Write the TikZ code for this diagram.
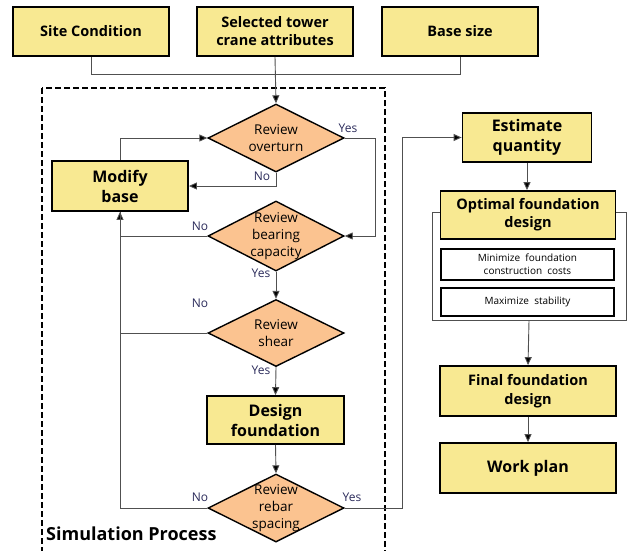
\documentclass[tikz,border=0pt]{standalone}
\usepackage{fontspec}
\setmainfont{Open Sans}
\usetikzlibrary{arrows.meta,shapes.geometric,calc}
\definecolor{boxyel}{HTML}{F8E992}
\definecolor{diaor}{HTML}{FBC390}
\definecolor{yn}{HTML}{2A2A5A}
\definecolor{conn}{HTML}{505050}
\tikzset{
  ybox/.style={draw=black, line width=1.8pt, fill=boxyel, align=center, inner sep=2pt, font=\bfseries\fontsize{16}{20}\selectfont},
  topbox/.style={ybox, minimum width=156pt, minimum height=49pt, font=\bfseries\fontsize{14.5}{18}\selectfont},
  dia/.style={draw=black, line width=1.4pt, fill=diaor, diamond, inner sep=0pt},
  dtext/.style={align=center, font=\fontsize{13.5}{17}\selectfont, inner sep=0pt},
  wbox/.style={draw=black, line width=1.6pt, fill=white, align=center, minimum width=173pt, font=\fontsize{10}{13}\selectfont},
  lab/.style={text=yn, font=\fontsize{12}{14}\selectfont, inner sep=0pt},
  arr/.style={draw=conn, line width=0.9pt, -{Triangle[length=8pt,width=7pt,fill=black]}},
  ln/.style={draw=conn, line width=0.9pt},
}
\begin{document}
\begin{tikzpicture}[x=1pt,y=-1pt]
\useasboundingbox (0,0) rectangle (628,550);
\clip (0,0) rectangle (628,550);
% top inputs
\node[topbox] (site) at (91,31.5) {Site Condition};
\node[topbox] (crane) at (275,31.5) {Selected tower\\crane attributes};
\node[topbox] (base) at (460,31.5) {Base size};
% simulation frame
\draw[line width=1.6pt, dash pattern=on 6pt off 3pt] (42,88) rectangle (385,560);
\node[anchor=west, inner sep=0pt, font=\bfseries\fontsize{18}{21}\selectfont] (simlab) at (46,534) {Simulation Process};
% process nodes
\node[dia, minimum width=136pt, minimum height=68pt, label={[dtext]center:Review\\overturn}] (ov) at (276,138) {};
\node[ybox, minimum width=136pt, minimum height=50pt] (mod) at (120,186) {Modify\\base};
\node[dia, minimum width=136pt, minimum height=70pt, label={[dtext]center:Review\\bearing\\capacity}] (br) at (276,236) {};
\node[dia, minimum width=136pt, minimum height=67pt, label={[dtext]center:Review\\shear}] (sh) at (276,333) {};
\node[ybox, minimum width=137pt, minimum height=48pt] (df) at (275.5,420) {Design\\foundation};
\node[dia, minimum width=136pt, minimum height=68pt, label={[dtext]center:Review\\rebar\\spacing}] (rb) at (276,508) {};
% right column
\node[ybox, minimum width=129pt, minimum height=49pt] (est) at (527,137.5) {Estimate\\quantity};
\node[draw=conn, line width=0.9pt, minimum width=194pt, minimum height=108pt, inner sep=0pt] (grp) at (529,266) {};
\node[ybox, minimum width=175pt, minimum height=48pt, font=\bfseries\fontsize{14.5}{18}\selectfont] (opt) at (528,215) {Optimal foundation\\design};
\node[wbox, minimum height=31pt] (minc) at (527.5,264.5) {Minimize\ \ foundation\\construction\ \ costs};
\node[wbox, minimum height=28pt] (maxs) at (527.5,302) {Maximize\ \ stability};
\node[ybox, minimum width=176pt, minimum height=50pt, font=\bfseries\fontsize{14.5}{19}\selectfont] (fin) at (528,391) {Final foundation\\design};
\node[ybox, minimum width=176pt, minimum height=50pt] (wp) at (528,468) {Work plan};
% connectors
\draw[ln] (site.south) -- ++(0,18) -| (base.south);
\draw[arr] (crane.south) -- (ov.north);
\draw[arr] (ov.south) |- (mod.east);
\draw[arr] (mod.north) |- (ov.west);
\draw[arr] (ov.east) -- ++(31,0) |- (br.east);
\draw[arr] (br.west) -| (mod.south);
\draw[arr] (br.south) -- (sh.north);
\draw[ln] (sh.west) -- (sh.west -| mod.south);
\draw[arr] (sh.south) -- (df.north);
\draw[arr] (df.south) -- (rb.north);
\draw[ln] (rb.west) -| (mod.south);
\draw[arr] (rb.east) -- ++(58,0) |- (est.west);
\draw[arr] (est.south) -- (est.south |- opt.north);
\draw[arr] (grp.south) -- (fin.north);
\draw[arr] (fin.south) -- (wp.north);
% yes / no labels
\node[lab] (y1) at (348,128) {Yes};
\node[lab] (n1) at (262,176) {No};
\node[lab] (n2) at (200,226) {No};
\node[lab] (y2) at (261,273) {Yes};
\node[lab] (n3) at (200,303) {No};
\node[lab] (y3) at (261,370) {Yes};
\node[lab] (n4) at (200,497) {No};
\node[lab] (y4) at (352,497) {Yes};
\end{tikzpicture}
\end{document}
